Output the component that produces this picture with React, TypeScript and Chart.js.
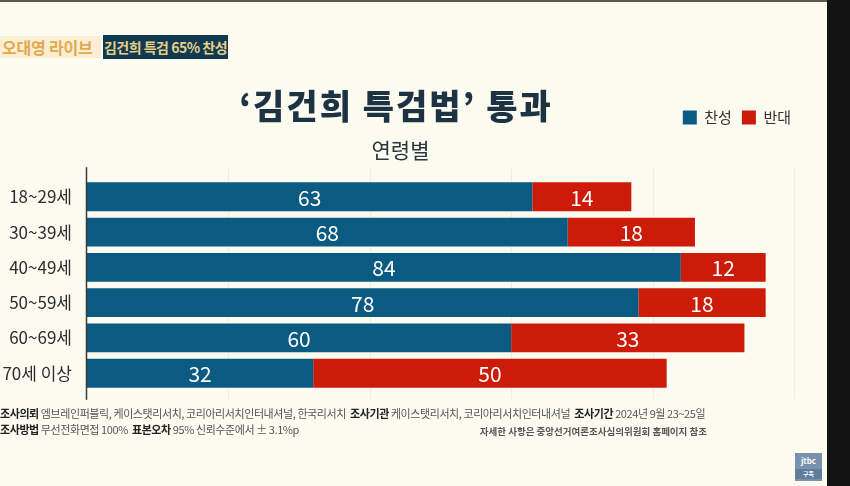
import React, { useEffect, useRef } from "react";
import { Chart, registerables } from "chart.js";

Chart.register(...registerables);

const CATEGORIES = ["18~29세", "30~39세", "40~49세", "50~59세", "60~69세", "70세 이상"];
const FAVOR = [63, 68, 84, 78, 60, 32];
const OPPOSE = [14, 18, 12, 18, 33, 50];
const SERIES_NAMES = ["찬성", "반대"];
const GRID_VALUES = [20, 40, 60, 80, 100];
const X_MAX = 101;

const TITLE = "‘김건희 특검법’ 통과";
const SUBTITLE = "연령별";

const BG = "#fcfbef";
const BLUE = "#0b5a82";
const RED = "#cc1b08";
const KR = "'Noto Sans CJK KR', 'Noto Sans', sans-serif";

const CANVAS_W = 801;
const CANVAS_H = 316;

const gridPlugin = {
  id: "gridExtras",
  beforeDatasetsDraw(chart: any) {
    const { ctx, chartArea, scales } = chart;
    const top = chartArea.top - 12;
    const bottom = chartArea.bottom + 9;
    ctx.save();
    ctx.strokeStyle = "rgba(140,130,90,0.10)";
    ctx.lineWidth = 1;
    GRID_VALUES.forEach((v) => {
      const x = Math.round(scales.x.getPixelForValue(v)) + 0.5;
      ctx.beginPath();
      ctx.moveTo(x, top);
      ctx.lineTo(x, bottom);
      ctx.stroke();
    });
    ctx.restore();
  },
  afterDatasetsDraw(chart: any) {
    const { ctx, chartArea, scales } = chart;
    const top = chartArea.top - 12;
    const bottom = chartArea.bottom + 9;
    const x0 = scales.x.getPixelForValue(0) - 0.5;
    ctx.save();
    ctx.strokeStyle = "#3a3a3a";
    ctx.lineWidth = 1.5;
    ctx.beginPath();
    ctx.moveTo(x0, top);
    ctx.lineTo(x0, bottom);
    ctx.stroke();
    ctx.restore();
  },
};

const valueLabelPlugin = {
  id: "valueLabels",
  afterDatasetsDraw(chart: any) {
    const ctx = chart.ctx;
    ctx.save();
    ctx.fillStyle = "#ffffff";
    ctx.font = `400 21px ${KR}`;
    ctx.textAlign = "center";
    ctx.textBaseline = "middle";
    chart.data.datasets.forEach((ds: any, di: number) => {
      const meta = chart.getDatasetMeta(di);
      meta.data.forEach((el: any, i: number) => {
        const { x, y, base } = el.getProps(["x", "y", "base"], true);
        ctx.fillText(String(ds.data[i]), (x + base) / 2, y + 1);
      });
    });
    ctx.restore();
  },
};

function BarChart() {
  const ref = useRef<HTMLCanvasElement>(null);
  useEffect(() => {
    if (!ref.current) return;
    const chart = new Chart(ref.current, {
      type: "bar",
      data: {
        labels: CATEGORIES,
        datasets: [
          {
            label: SERIES_NAMES[0],
            data: FAVOR,
            backgroundColor: BLUE,
            borderWidth: 0,
            categoryPercentage: 0.82,
            barPercentage: 1,
          },
          {
            label: SERIES_NAMES[1],
            data: OPPOSE,
            backgroundColor: RED,
            borderWidth: 0,
            categoryPercentage: 0.82,
            barPercentage: 1,
          },
        ],
      },
      options: {
        animation: false,
        responsive: false,
        indexAxis: "y",
        layout: { padding: 0 },
        scales: {
          x: { stacked: true, min: 0, max: X_MAX, display: false },
          y: {
            stacked: true,
            grid: { display: false, drawTicks: false },
            border: { display: false },
            ticks: { color: "#2e2e2e", font: { size: 17, family: KR }, padding: 15 },
            afterFit: (s: any) => {
              s.width = 87;
            },
          },
        },
        plugins: {
          legend: {
            position: "top",
            align: "end",
            labels: {
              boxWidth: 14,
              boxHeight: 14,
              padding: 10,
              color: "#333333",
              font: { size: 15, family: KR },
            },
          },
          subtitle: {
            display: true,
            text: SUBTITLE,
            position: "top",
            weight: 500,
            color: "#2b3640",
            font: { size: 21, family: KR, weight: "normal" },
            padding: { top: 2, bottom: 17 },
          },
          tooltip: { enabled: false },
        },
      } as any,
      plugins: [gridPlugin, valueLabelPlugin],
    });
    return () => chart.destroy();
  }, []);
  return (
    <canvas
      ref={ref}
      width={CANVAS_W}
      height={CANVAS_H}
      style={{ width: CANVAS_W, height: CANVAS_H, display: "block" }}
    />
  );
}

export default function App() {
  const b = { fontWeight: 700, color: "#222" };
  return (
    <div
      style={{
        position: "absolute",
        left: 0,
        top: 0,
        width: 850,
        height: 486,
        background: BG,
        overflow: "hidden",
        fontFamily: KR,
      }}
    >
      <div style={{ position: "absolute", left: 0, top: 0, width: 827, height: 2, background: "#5a5a55" }} />
      <div style={{ position: "absolute", left: 827, top: 0, width: 23, height: 486, background: "#131313" }} />

      <div style={{ position: "absolute", left: 0, top: 100 }}>
        <BarChart />
      </div>

      <div
        style={{
          position: "absolute",
          left: 0,
          top: 36,
          width: 101,
          height: 22,
          background: "#fbefd3",
          color: "#e3a94f",
          fontWeight: 700,
          fontSize: 16,
          lineHeight: "22px",
          paddingLeft: 2,
          boxSizing: "border-box",
          whiteSpace: "nowrap",
          letterSpacing: -0.2,
        }}
      >
        오대영 라이브
      </div>
      <div
        style={{
          position: "absolute",
          left: 103,
          top: 35,
          width: 125,
          height: 24,
          background: "#0f3a52",
          color: "#e8cf86",
          fontWeight: 700,
          fontSize: 14,
          lineHeight: "24px",
          textAlign: "center",
          whiteSpace: "nowrap",
          letterSpacing: -0.5,
        }}
      >
        김건희 특검 65% 찬성
      </div>

      <div
        style={{
          position: "absolute",
          left: 196,
          top: 83,
          width: 400,
          textAlign: "center",
          fontSize: 34,
          fontWeight: 900,
          color: "#1d3344",
          lineHeight: "44px",
          letterSpacing: 2,
          whiteSpace: "nowrap",
        }}
      >
        {TITLE}
      </div>

      <div
        style={{
          position: "absolute",
          left: 0,
          top: 405,
          fontSize: 11,
          lineHeight: "16px",
          color: "#555",
          whiteSpace: "nowrap",
          letterSpacing: -0.42,
        }}
      >
        <div>
          <span style={b}>조사의뢰</span> 엠브레인퍼블릭, 케이스탯리서치, 코리아리서치인터내셔널, 한국리서치{"  "}
          <span style={b}>&nbsp;조사기관</span> 케이스탯리서치, 코리아리서치인터내셔널{"  "}
          <span style={b}>&nbsp;조사기간</span> 2024년 9월 23~25일
        </div>
        <div>
          <span style={b}>조사방법</span> 무선전화면접 100%&nbsp;&nbsp;<span style={b}>표본오차</span> 95% 신뢰수준에서 ± 3.1%p
        </div>
      </div>
      <div
        style={{
          position: "absolute",
          right: 143,
          top: 424,
          fontSize: 9.5,
          fontWeight: 700,
          color: "#555",
          whiteSpace: "nowrap",
          lineHeight: "14px",
        }}
      >
        자세한 사항은 중앙선거여론조사심의위원회 홈페이지 참조
      </div>

      <div
        style={{
          position: "absolute",
          left: 795,
          top: 453,
          width: 27,
          height: 28,
          background: "#7a91ab",
          color: "#fff",
          fontSize: 8,
          fontWeight: 700,
          textAlign: "center",
          lineHeight: "12px",
        }}
      >
        <div style={{ paddingTop: 2 }}>jtbc</div>
        <div style={{ background: "#5f7d9c", marginTop: 2, lineHeight: "10px", fontSize: 6 }}>구독</div>
      </div>
    </div>
  );
}
